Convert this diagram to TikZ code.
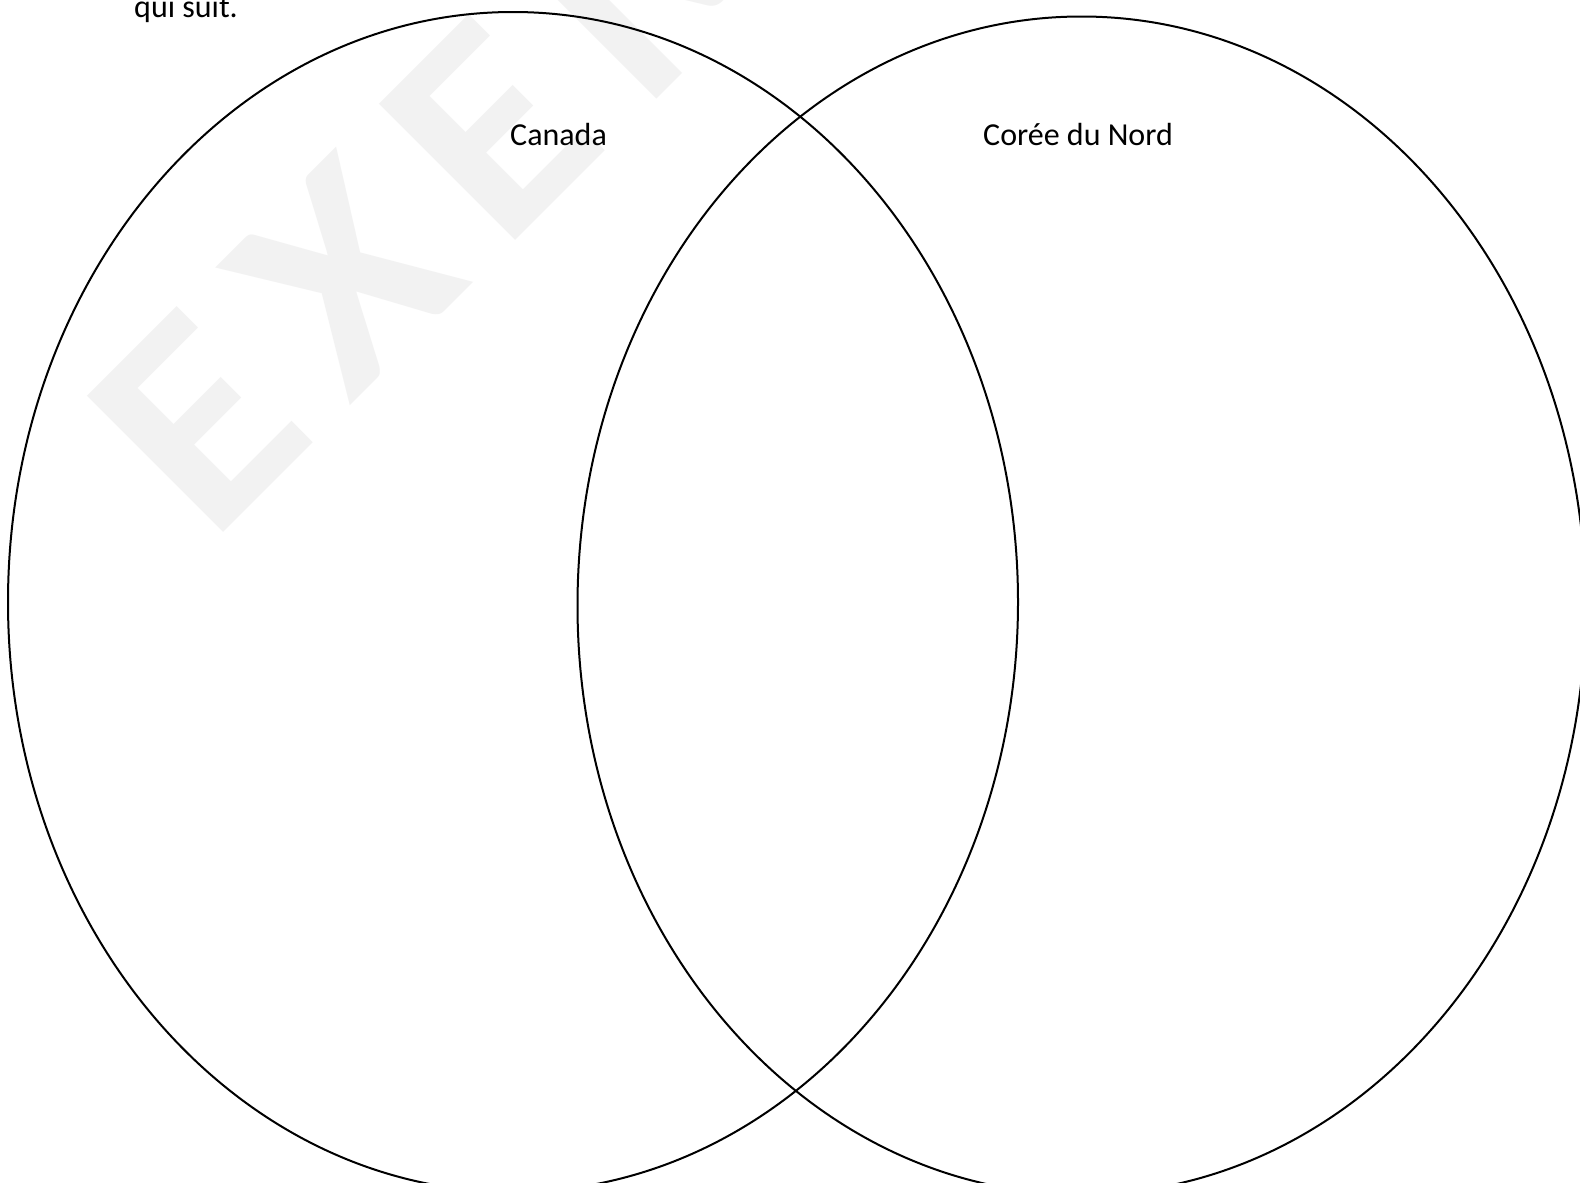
\documentclass[tikz,border=0pt]{standalone}
\usepackage{fontspec}
\setmainfont{Carlito}
\newfontfamily\wmfont[LetterSpace=12.5]{Carlito}
\usetikzlibrary{shapes.geometric}
\definecolor{wmgray}{HTML}{F2F2F2}
\tikzset{
  venn/.style={ellipse, draw=black, line width=2pt, inner sep=0pt, minimum width=1010pt, minimum height=1180pt},
  label/.style={anchor=base west, inner sep=0pt, font=\fontsize{32}{38}\selectfont},
  watermark/.style={rotate=45, xscale=1.08, anchor=base west, inner sep=0pt, text=wmgray, font=\wmfont\bfseries\fontsize{297}{297}\selectfont}
}
\begin{document}
\begin{tikzpicture}[x=1pt,y=-1pt]
\useasboundingbox (0,0) rectangle (1580,1183);
\clip (0,0) rectangle (1580,1183);
\fill[white] (0,0) rectangle (1580,1183);
\node[watermark] (wm) at (210,546) {EXEMPLE};
\node[label] (intro) at (134,17) {qui suit.};
\node[venn] (canada) at (513,602) {};
\node[venn, minimum width=1008pt, minimum height=1178pt] (coree) at (1081.5,605.5) {};
\node[label] (lcanada) at (510,145) {Canada};
\node[label] (lcoree) at (983,145) {Corée du Nord};
\end{tikzpicture}
\end{document}
